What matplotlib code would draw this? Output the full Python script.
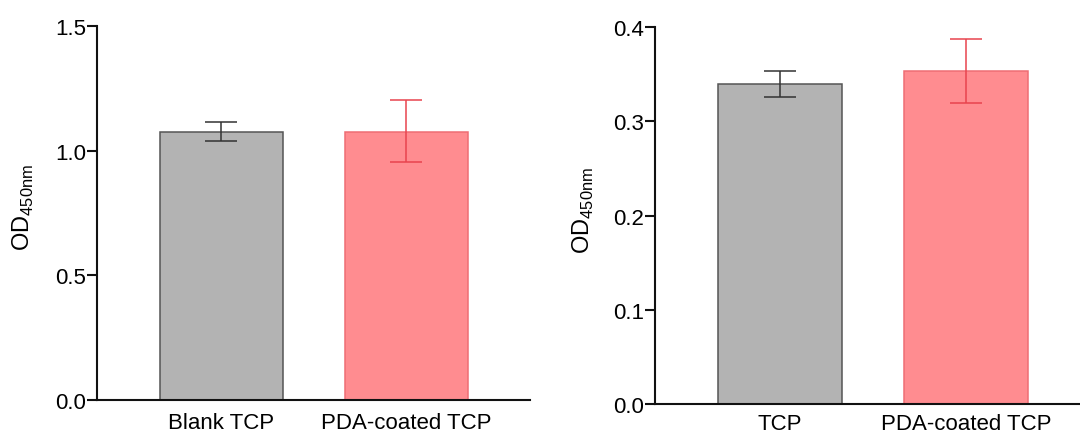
import matplotlib
matplotlib.use("Agg")
import matplotlib.pyplot as plt

plt.rcParams['font.family'] = ['Liberation Sans', 'DejaVu Sans']
plt.rcParams['mathtext.fontset'] = 'custom'
plt.rcParams['mathtext.rm'] = 'Liberation Sans'

left_categories = ["Blank TCP", "PDA-coated TCP"]
left_means = [1.075, 1.076]
left_err_low = [0.035, 0.123]
left_err_high = [0.040, 0.126]

right_categories = ["TCP", "PDA-coated TCP"]
right_means = [0.340, 0.3535]
right_err_low = [0.0135, 0.0335]
right_err_high = [0.0135, 0.034]

left_yticks = [0.0, 0.5, 1.0, 1.5]
right_yticks = [0.0, 0.1, 0.2, 0.3, 0.4]

fill_colors = ["#b3b3b3", "#ff8c90"]
edge_colors = ["#555555", "#ef6d74"]
err_colors = ["#333333", "#e8444e"]

fig = plt.figure(figsize=(10.8, 4.39), dpi=100)
ax1 = fig.add_axes([97/1080, 1-401/439, (530-97)/1080, (401-27)/439])
ax2 = fig.add_axes([655/1080, 1-405/439, 436/1080, (405-28.3)/439])

def draw(ax, cats, means, lo, hi, yticks, ylim, xlim, xpad, label_xy):
    x = list(range(len(cats)))
    for i in x:
        ax.bar(i, means[i], width=0.665, color=fill_colors[i],
               edgecolor=edge_colors[i], linewidth=1.1, zorder=2)
        ax.errorbar(i, means[i], yerr=[[lo[i]], [hi[i]]], fmt='none',
                    ecolor=err_colors[i], elinewidth=1.1, capsize=11.5,
                    capthick=1.1, zorder=3)
    ax.set_xlim(*xlim)
    ax.set_ylim(*ylim)
    ax.set_yticks(yticks)
    ax.set_yticklabels([f"{t:.1f}" for t in yticks])
    ax.set_xticks(x)
    ax.set_xticklabels(cats)
    ax.spines['top'].set_visible(False)
    ax.spines['right'].set_visible(False)
    for s in ['left', 'bottom']:
        ax.spines[s].set_linewidth(1.5)
        ax.spines[s].set_color('#111111')
    ax.tick_params(axis='y', length=7, width=1.5, labelsize=16, pad=1, color='#111111')
    ax.tick_params(axis='x', length=0, labelsize=16, pad=xpad)
    ax.set_ylabel(r'OD$_{\mathregular{450nm}}$', fontsize=17)
    ax.yaxis.set_label_coords(*label_xy)

draw(ax1, left_categories, left_means, left_err_low, left_err_high,
     left_yticks, (0, 1.5), (-0.673, 1.668), 9, ((36-97)/433, (401-207)/374))
draw(ax2, right_categories, right_means, right_err_low, right_err_high,
     right_yticks, (0, 0.4), (-0.67, 1.67), 6.5, ((596-655)/436, (405-210)/376.7))

fig.savefig("out.png", dpi=100)
